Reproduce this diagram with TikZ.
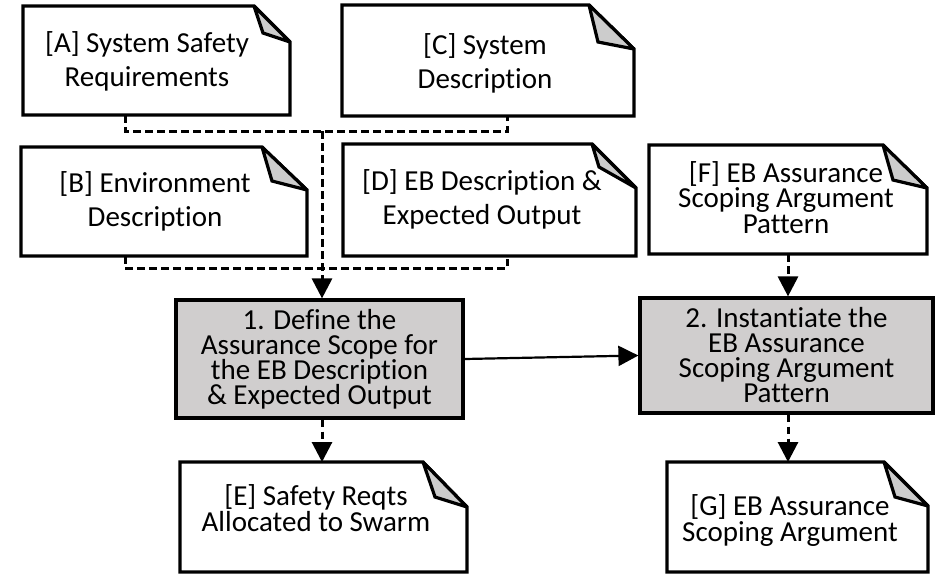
\documentclass[tikz,border=0pt]{standalone}
\usepackage{fontspec}
\setmainfont{Carlito}[Ligatures=NoCommon]
\usetikzlibrary{arrows.meta}
\definecolor{boxgray}{RGB}{208,206,206}
\definecolor{foldgray}{RGB}{204,204,204}
% #1 name, #2 dx of fold on top edge, #3 dy of fold on right edge, #4/#5 inner vertex offset
\newcommand\notefold[5]{%
  \draw[noteline, fill=white] (#1.north west) -- ([xshift=-#2pt]#1.north east)
     -- ([yshift=-#3pt]#1.north east) -- (#1.south east) -- (#1.south west) -- cycle;
  \draw[noteline, fill=foldgray] ([xshift=-#2pt]#1.north east)
     -- ([xshift=-#4pt,yshift=-#5pt]#1.north east) -- ([yshift=-#3pt]#1.north east) -- cycle;
}
\begin{document}
\begin{tikzpicture}[x=1pt,y=-1pt,
  notebox/.style={draw=none, outer sep=0pt, inner sep=0pt},
  noteline/.style={draw=black, line width=3.2pt, line join=miter, miter limit=3},
  procbox/.style={draw=black, fill=boxgray, line width=3.2pt, inner sep=0pt, align=center,
                  font=\fontsize{29}{25}\selectfont},
  notetext/.style={align=center, inner sep=0pt, font=\fontsize{29}{34}\selectfont},
  notetextb/.style={align=center, inner sep=0pt, font=\fontsize{29}{25.5}\selectfont},
  dline/.style={draw=black, line width=3pt, dash pattern=on 7.5pt off 4.5pt},
  tip/.style={-{Triangle[width=20pt,length=20pt]}},
  sline/.style={draw=black, line width=2.2pt}
]
\useasboundingbox (0,0) rectangle (942,574);

% note shapes
\node[notebox, minimum width=267pt, minimum height=109pt] (A) at (156.5,60.5) {};
\node[notebox, minimum width=292pt, minimum height=111pt] (C) at (488,60.5) {};
\node[notebox, minimum width=286pt, minimum height=109pt] (B) at (164,201.5) {};
\node[notebox, minimum width=293pt, minimum height=112pt] (D) at (489.5,200) {};
\node[notebox, minimum width=278pt, minimum height=109pt] (F) at (788,199.5) {};
\node[notebox, minimum width=287pt, minimum height=110pt] (E) at (323.5,517) {};
\node[notebox, minimum width=261pt, minimum height=110pt] (G) at (797.5,517) {};

\notefold{A}{36}{36}{27}{27}
\notefold{C}{45}{44}{36}{37}
\notefold{B}{45}{43}{35}{34}
\notefold{D}{44}{44}{37}{23}
\notefold{F}{44}{43}{34}{35}
\notefold{E}{44}{45}{32}{35}
\notefold{G}{44}{44}{33}{35}

% note texts
\node[notetext] (At) at ([shift={(-9.5,0.5)}]A.center) {[A] System Safety\\Requirements};
\node[notetext] (Ct) at ([shift={(-3,2.5)}]C.center) {[C] System\\Description};
\node[notetext] (Bt) at ([shift={(-9,0)}]B.center) {[B] Environment\\Description};
\node[notetext] (Dt) at ([shift={(-7.5,-1)}]D.center) {[D] EB Description \&\\Expected Output};
\node[notetextb] (Ft) at ([shift={(-2,-2)}]F.center) {[F] EB Assurance\\Scoping Argument\\Pattern};
\node[notetextb] (Et) at ([shift={(-7.5,-9)}]E.center) {[E] Safety Reqts\\Allocated to Swarm};
\node[notetextb] (Gt) at ([shift={(-7.5,3.5)}]G.center) {[G] EB Assurance\\Scoping Argument};

% process boxes
\node[procbox, minimum width=287pt, minimum height=118pt] (b1) at (319.5,359)
  {1. Define the\\Assurance Scope for\\the EB Description\\\& Expected Output};
\node[procbox, minimum width=293pt, minimum height=115pt] (b2) at (786.5,355.5)
  {2. Instantiate the\\EB Assurance\\Scoping Argument\\Pattern};

% connectors
\coordinate (xl) at (125,0);
\coordinate (xr) at (507,0);
\coordinate (xF) at (788,0);
\coordinate (j1) at (322,131);
\coordinate (j2) at (322,268);

\draw[dline] (A.south -| xl) |- (j1) -| (C.south -| xr);
\draw[dline] (B.south -| xl) |- (j2) -| (D.south -| xr);
\draw[dline, tip] (j1) -- (b1.north -| j1);
\draw[dline, tip] (b1.south -| j1) -- (E.north -| j1);
\draw[sline, tip] (b1.east) -- (b2.west);
\draw[dline, tip] (F.south -| xF) -- (b2.north -| xF);
\draw[dline, tip] (b2.south -| xF) -- (G.north -| xF);
\end{tikzpicture}
\end{document}
